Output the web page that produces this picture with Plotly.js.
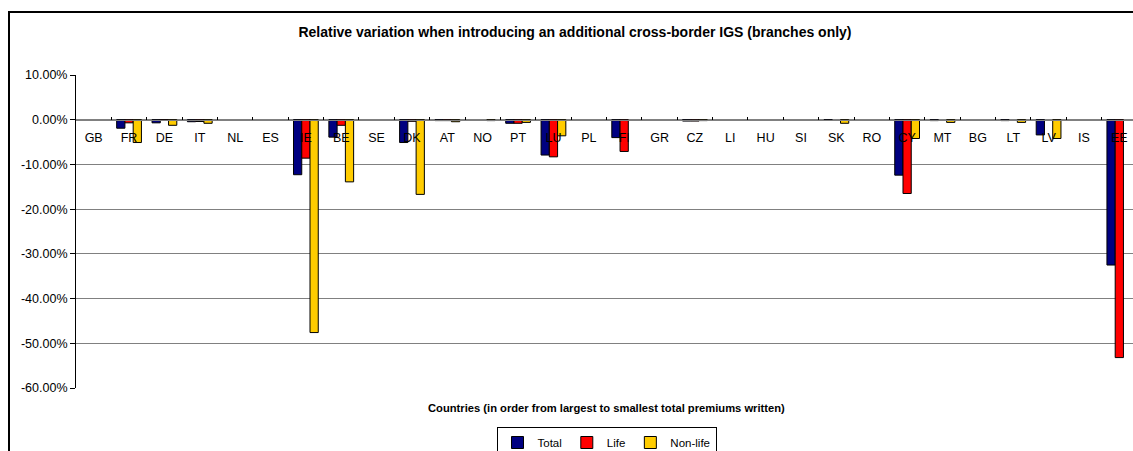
<!DOCTYPE html>
<html>
<head>
<meta charset="utf-8">
<script src="https://cdn.plot.ly/plotly-3.0.1.min.js"></script>
<style>
  html, body { margin: 0; padding: 0; background: #fff; overflow: hidden; width: 1133px; height: 451px; }
  #frame { position: absolute; left: 8px; top: 11px; width: 1130px; height: 445px; border: 2px solid #000; background: #fff; }
  #chart { width: 1130px; height: 445px; }
</style>
</head>
<body>
<div id="frame"><div id="chart"></div></div>
<script>
// Countries (in order from largest to smallest total premiums written)
const countries = ["GB","FR","DE","IT","NL","ES","IE","BE","SE","DK","AT","NO","PT","LU","PL","FI","GR","CZ","LI","HU","SI","SK","RO","CY","MT","BG","LT","LV","IS","EE"];

// Relative variation (fractions)
const totalVals   = [0, -0.019, -0.007, -0.0045, 0, 0, -0.123, -0.039, 0, -0.051, -0.002, 0, -0.008, -0.079, 0, -0.040, 0, -0.003, 0, 0, 0, -0.0015, 0, -0.124, -0.002, 0, -0.002, -0.034, 0, -0.325];
const lifeVals    = [0, -0.007, -0.001, -0.004, 0, 0, -0.086, -0.0125, 0, -0.0036, -0.002, 0, -0.008, -0.083, 0, -0.071, 0, -0.003, 0, 0, 0, 0, 0, -0.165, 0, 0, 0, 0, 0, -0.532];
const nonLifeVals = [0, -0.051, -0.0125, -0.008, 0, 0, -0.476, -0.139, 0, -0.167, -0.0045, -0.002, -0.006, -0.036, 0, 0, 0, -0.002, 0, 0, 0, -0.008, 0, -0.042, -0.006, 0, -0.006, -0.042, 0, 0];

const seriesNames = ["Total", "Life", "Non-life"];
const seriesColors = ["#000080", "#FF0000", "#FFCC00"];

const yTickVals = [0.1, 0, -0.1, -0.2, -0.3, -0.4, -0.5, -0.6];
const yTickText = ["10.00%", "0.00%", "-10.00%", "-20.00%", "-30.00%", "-40.00%", "-50.00%", "-60.00%"];

const titleText = "Relative variation when introducing an additional cross-border IGS (branches only)";
const xTitleText = "Countries (in order from largest to smallest total premiums written)";

const FONT = "Liberation Sans, Arial, sans-serif";

// zero values produce no visible bar (as in the original chart)
const seriesVals = [totalVals, lifeVals, nonLifeVals];
const traces = seriesVals.map((vals, i) => ({
  type: "bar",
  name: seriesNames[i],
  x: countries,
  y: vals.map(v => (v === 0 ? null : v)),
  marker: { color: seriesColors[i], line: { color: "#000", width: 1 } },
  hoverinfo: "x+y+name"
}));

const yMin = -0.6, yMax = 0.1;
const H = 445;

const layout = {
  width: 1130,
  height: H,
  margin: { l: 66, r: 3, t: 62, b: 70 },
  paper_bgcolor: "#fff",
  plot_bgcolor: "#fff",
  font: { family: FONT, color: "#000", size: 11 },
  title: {
    text: "<b>" + titleText + "</b>",
    font: { family: FONT, size: 14, color: "#000" },
    xref: "container", x: 0.5, xanchor: "center",
    yref: "container", y: 1 - 19 / H, yanchor: "middle"
  },
  barmode: "group",
  bargap: 0.3,
  bargroupgap: 0,
  xaxis: {
    type: "category",
    anchor: "free",
    position: (0 - yMin) / (yMax - yMin),
    showline: true,
    linecolor: "#808080",
    linewidth: 1,
    ticks: "inside",
    tickson: "boundaries",
    ticklen: 3,
    tickcolor: "#000",
    showgrid: false,
    zeroline: false,
    tickfont: { family: FONT, size: 12.5, color: "#000" },
    ticklabelstandoff: 6,
    layer: "above traces",
    fixedrange: true
  },
  yaxis: {
    range: [yMin, yMax],
    tickvals: yTickVals,
    ticktext: yTickText,
    showgrid: true,
    gridcolor: "#808080",
    gridwidth: 1,
    showline: true,
    linecolor: "#000",
    linewidth: 1,
    ticks: "outside",
    ticklen: 5,
    tickcolor: "#000",
    zeroline: false,
    tickfont: { family: FONT, size: 12.5, color: "#000" },
    fixedrange: true
  },
  showlegend: true,
  legend: {
    orientation: "h",
    xref: "paper", x: 0.5, xanchor: "center",
    yref: "container", y: (H - 414) / H, yanchor: "top",
    bordercolor: "#000",
    borderwidth: 1,
    bgcolor: "#fff",
    font: { family: FONT, size: 11.5, color: "#000" },
    itemwidth: 30,
    traceorder: "normal"
  },
  annotations: [{
    text: "<b>" + xTitleText + "</b>",
    xref: "paper", yref: "paper",
    x: 0.5, y: -20 / 313,
    xanchor: "center", yanchor: "middle",
    showarrow: false,
    font: { family: FONT, size: 11.2, color: "#000" }
  }]
};

Plotly.newPlot("chart", traces, layout, { displayModeBar: false, staticPlot: true });
</script>
</body>
</html>
